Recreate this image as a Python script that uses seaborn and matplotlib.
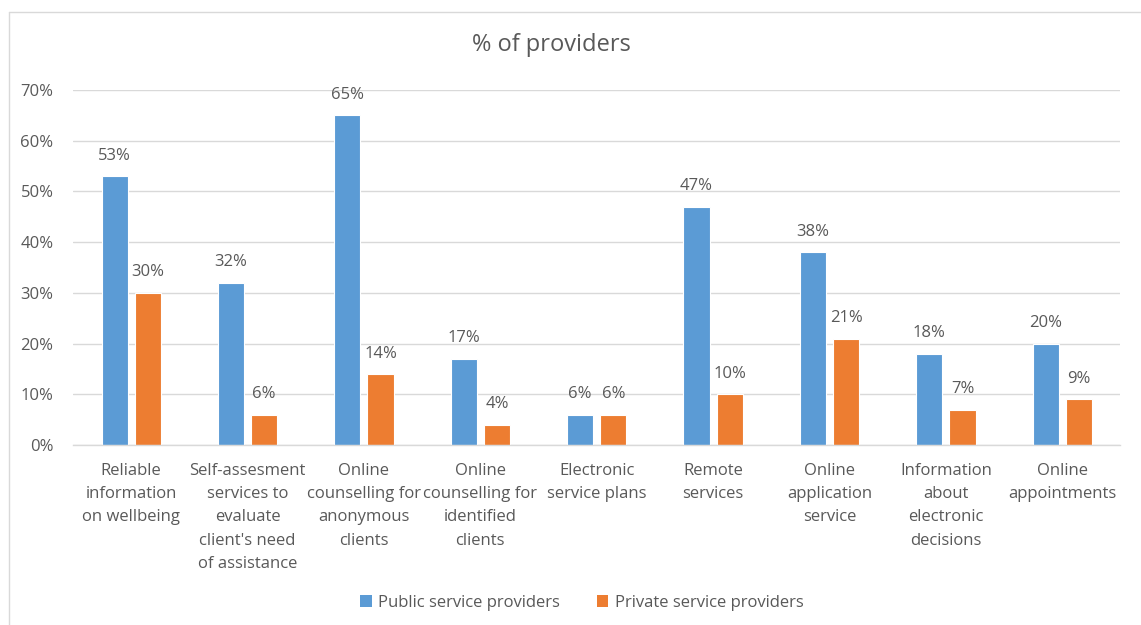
import matplotlib
matplotlib.use("Agg")
import matplotlib.pyplot as plt
from matplotlib.lines import Line2D
from matplotlib.patches import Patch
import seaborn as sns
import pandas as pd

categories = [
    "Reliable\ninformation\non wellbeing",
    "Self-assesment\nservices to\nevaluate\nclient's need\nof assistance",
    "Online\ncounselling for\nanonymous\nclients",
    "Online\ncounselling for\nidentified\nclients",
    "Electronic\nservice plans",
    "Remote\nservices",
    "Online\napplication\nservice",
    "Information\nabout\nelectronic\ndecisions",
    "Online\nappointments",
]
public_values = [53, 32, 65, 17, 6, 47, 38, 18, 20]
private_values = [30, 6, 14, 4, 6, 10, 21, 7, 9]
series_names = ["Public service providers", "Private service providers"]
y_ticks = [0, 10, 20, 30, 40, 50, 60, 70]
title = "% of providers"

colors = ["#5B9BD5", "#ED7D31"]
text_color = "#595959"

df = pd.DataFrame({
    "category": categories * 2,
    "value": public_values + private_values,
    "series": [series_names[0]] * len(categories) + [series_names[1]] * len(categories),
})

sns.set_theme(style="white")
plt.rcParams["font.family"] = ["Open Sans", "DejaVu Sans"]

fig = plt.figure(figsize=(11.41, 6.25), dpi=100)
ax = fig.add_axes([0.064, 0.288, 0.918, 0.568])

sns.barplot(data=df, x="category", y="value", hue="series", order=categories,
            hue_order=series_names, palette=colors, width=0.57, gap=0.21,
            saturation=1, ax=ax, legend=False, edgecolor="white", linewidth=0.8)

ax.set_ylim(0, 70)
ax.set_xlim(-0.5, len(categories) - 0.5)
ax.set_yticks(y_ticks)
ax.set_yticklabels([f"{t}%" for t in y_ticks])
ax.yaxis.grid(True, color="#D9D9D9", linewidth=1)
ax.set_axisbelow(True)
for s in ["top", "right", "left"]:
    ax.spines[s].set_visible(False)
ax.spines["bottom"].set_color("#D9D9D9")
ax.spines["bottom"].set_linewidth(1)
ax.set_xlabel("")
ax.set_ylabel("")
ax.tick_params(axis="both", length=0, colors=text_color, labelsize=12)
ax.tick_params(axis="x", pad=13)
ax.tick_params(axis="y", pad=14)
for lbl in ax.get_xticklabels():
    lbl.set_linespacing(1.6)
    lbl.set_va("top")
    lbl.set_ha("center")

for cont in ax.containers:
    ax.bar_label(cont, labels=[f"{v:.0f}%" for v in cont.datavalues],
                 padding=9, color=text_color, fontsize=12)

fig.text(0.483, 0.928, title, ha="center", va="center", fontsize=17, color=text_color)

handles = [Patch(facecolor=c, edgecolor="none") for c in colors]
fig.legend(handles, series_names, loc="center", bbox_to_anchor=(0.51, 0.035),
           ncol=2, frameon=False, fontsize=12, labelcolor=text_color,
           handlelength=0.7, handleheight=0.7, handletextpad=0.4, columnspacing=2.2)

fig.add_artist(Line2D([9 / 1141, 9 / 1141], [0, 1 - 12 / 625], transform=fig.transFigure,
                      color="#D9D9D9", linewidth=1))
fig.add_artist(Line2D([9 / 1141, 1], [1 - 12 / 625, 1 - 12 / 625], transform=fig.transFigure,
                      color="#D9D9D9", linewidth=1))

fig.savefig("out.png", dpi=100, facecolor="white")
